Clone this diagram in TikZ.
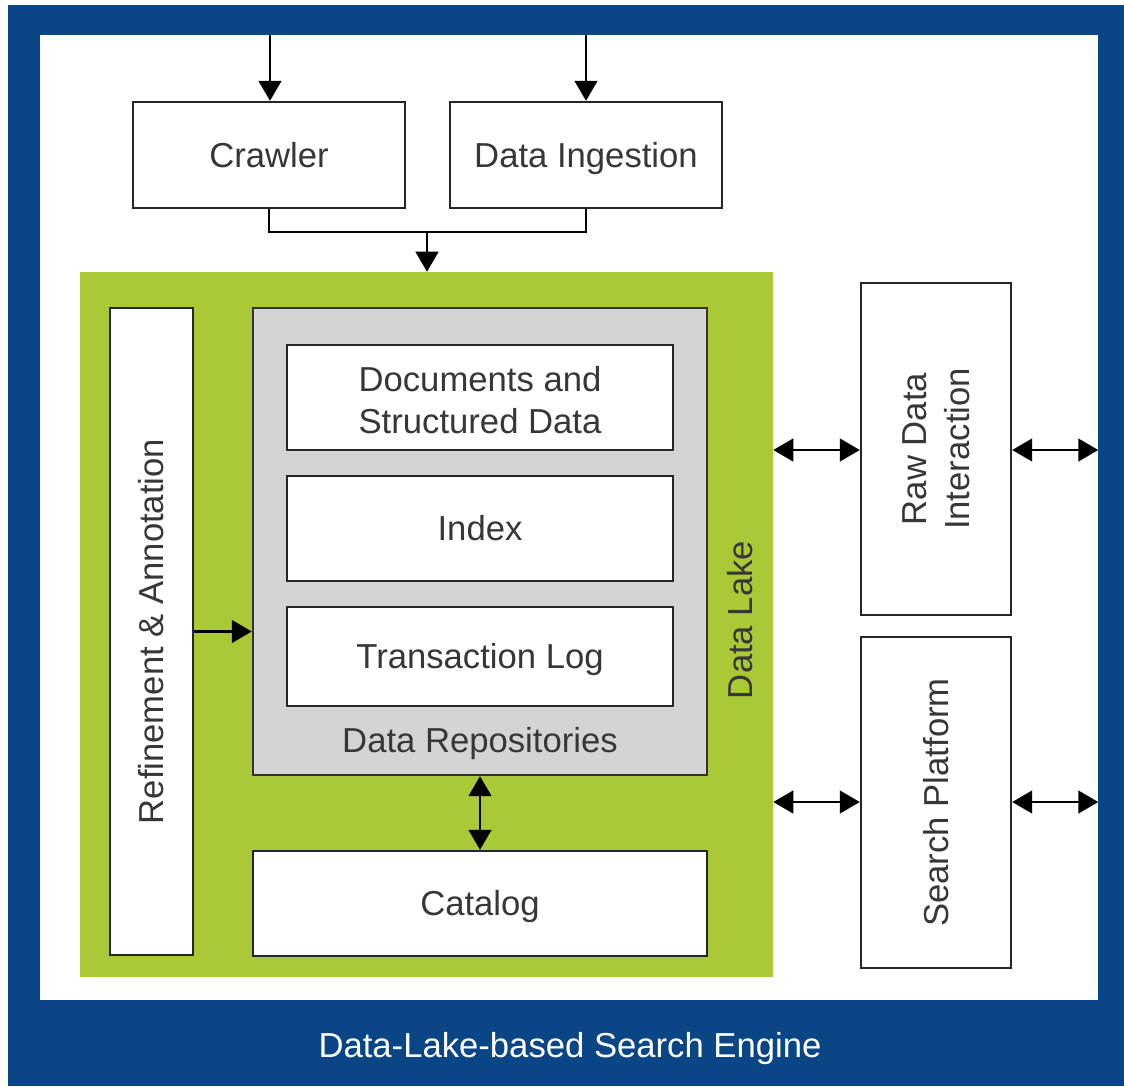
\documentclass[tikz,border=0pt]{standalone}
\usepackage{fontspec}
\setmainfont{Liberation Sans}
\usetikzlibrary{fit,arrows.meta}
\definecolor{frameblue}{RGB}{10,70,134}
\definecolor{lakegreen}{RGB}{170,201,55}
\definecolor{repogray}{RGB}{212,212,212}
\definecolor{inkgray}{RGB}{55,55,55}
\tikzset{
  box/.style={draw=black!85, line width=1.8pt, fill=white, inner sep=0pt},
  repobox/.style={draw=black!80, line width=1.8pt, fill=repogray, inner sep=0pt},
  lbl/.style={text=inkgray, font=\fontsize{26}{32}\selectfont, align=center, inner sep=0pt},
  oneline/.style={lbl, text height=18.7pt, text depth=0pt},
  conn/.style={line width=1.8pt, black},
  arr/.style={conn, -{Triangle[width=17pt,length=15pt]}},
  darr/.style={conn, {Triangle[width=17pt,length=15pt]}-{Triangle[width=17pt,length=15pt]}},
}
\begin{document}
\begin{tikzpicture}[x=0.75pt, y=-0.75pt]
\useasboundingbox (0,0) rectangle (1124,1086);
% outer frame and its white panel
\fill[frameblue] (8,5) rectangle (1124,1086);
\node[fill=white, inner sep=0pt, fit={(40,35)(1098,1000)}] (panel) {};
\node[oneline, text=white] (title) at (570,1045) {Data-Lake-based Search Engine};

% sources
\node[box, fit={(133,102)(405,208)}] (crawler) {};
\node[oneline] (crawlerT) at (crawler.center) {Crawler};
\node[box, fit={(450,102)(722,208)}] (ingest) {};
\node[oneline] (ingestT) at (ingest.center) {Data Ingestion};

% data lake
\node[fill=lakegreen, inner sep=0pt, fit={(80,272)(773,977)}] (lake) {};
\node[oneline, rotate=90] (lakeT) at (740,620) {Data Lake};

\node[box, fit={(110,308)(193,955)}] (refine) {};
\node[oneline, rotate=90] (refineT) at (refine.center) {Refinement \& Annotation};

\node[repobox, fit={(253,308)(707,775)}] (repos) {};
\node[oneline] (reposT) at (480,740) {Data Repositories};
\node[box, fit={(287,345)(673,450)}] (docs) {};
\node[lbl] (docsT) at ([yshift=-2pt]docs.center) {Documents and\\Structured Data};
\node[box, fit={(287,476)(673,581)}] (index) {};
\node[oneline] (indexT) at (index.center) {Index};
\node[box, fit={(287,607)(673,706)}] (txlog) {};
\node[oneline] (txlogT) at (txlog.center) {Transaction Log};

\node[box, fit={(253,851)(707,956)}] (catalog) {};
\node[oneline] (catalogT) at (catalog.center) {Catalog};

% access layers
\node[box, fit={(861,283)(1011,615)}] (raw) {};
\node[lbl, rotate=90] (rawT) at (raw.center) {Raw Data\\Interaction};
\node[box, fit={(861,637)(1011,968)}] (search) {};
\node[oneline, rotate=90] (searchT) at (search.center) {Search Platform};

% inputs from outside
\coordinate (inA) at (270,35);
\coordinate (inB) at (586,35);
\draw[arr] (inA) -- (inA |- crawler.north);
\draw[arr] (inB) -- (inB |- ingest.north);

% merge into the lake
\coordinate (mj) at (427,232);
\draw[conn] (crawler.south) |- (mj) -| (ingest.south);
\draw[arr] (mj) -- (mj |- lake.north);

% inside the lake
\draw[arr] (refine.east) -- (refine.east -| repos.west);
\draw[darr] (repos.south) -- (catalog.north);

% lake <-> access layers <-> outside
\coordinate (rawY) at (0,450);
\coordinate (srchY) at (0,802);
\draw[darr] (lake.east |- rawY) -- (raw.west |- rawY);
\draw[darr] (raw.east |- rawY) -- (panel.east |- rawY);
\draw[darr] (lake.east |- srchY) -- (search.west |- srchY);
\draw[darr] (search.east |- srchY) -- (panel.east |- srchY);
\end{tikzpicture}
\end{document}
